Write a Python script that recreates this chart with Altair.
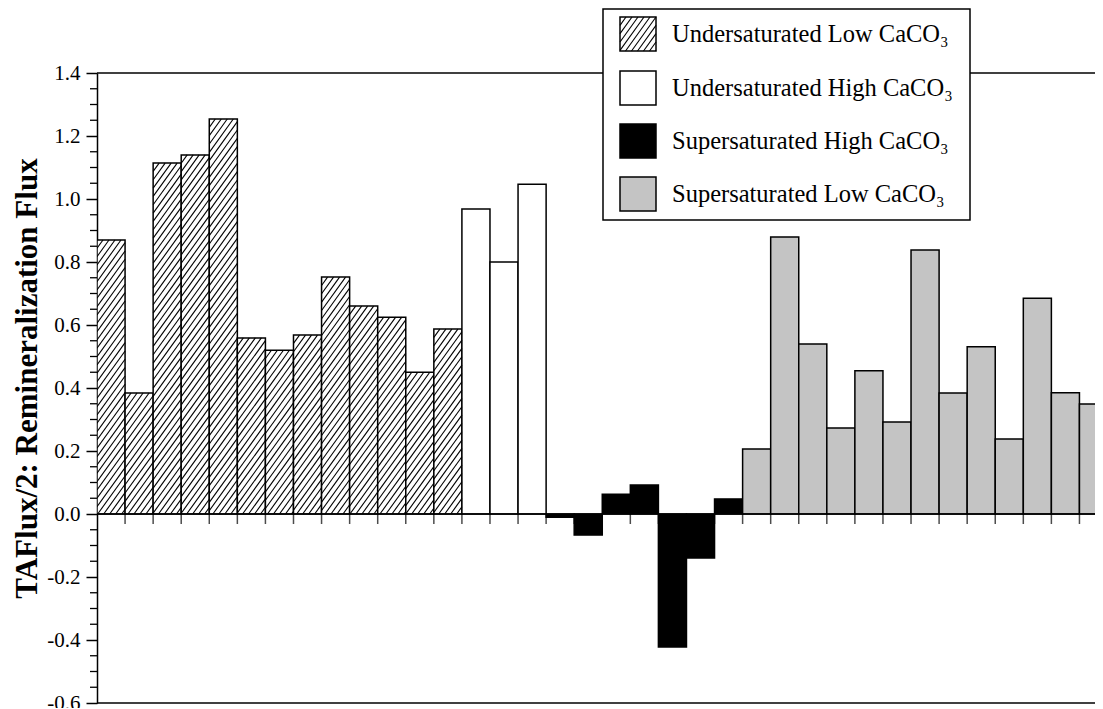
import altair as alt
import pandas as pd
import numpy as np

# ---------------- data ----------------
groups = ["Undersaturated Low CaCO₃", "Undersaturated High CaCO₃",
          "Supersaturated High CaCO₃", "Supersaturated Low CaCO₃"]
under_low = [0.870, 0.384, 1.114, 1.140, 1.254, 0.559, 0.520, 0.568, 0.752, 0.660, 0.625, 0.450, 0.587]
under_high = [0.968, 0.800, 1.047]
super_high = [-0.010, -0.067, 0.063, 0.092, -0.422, -0.140, 0.048]
super_low = [0.206, 0.879, 0.540, 0.273, 0.455, 0.292, 0.838, 0.384, 0.531, 0.238, 0.685, 0.385, 0.349]
fills = ["white", "white", "black", "#c4c4c4"]
y_ticks = [-0.6, -0.4, -0.2, 0.0, 0.2, 0.4, 0.6, 0.8, 1.0, 1.2, 1.4]
y_title = "TAFlux/2: Remineralization Flux"

# ---------------- layout ----------------
W, H = 998, 630
BAR_PX = 28.07
XMAX = W / BAR_PX
YMIN, YMAX = -0.6, 1.4
XPU = W / XMAX
YPU = H / (YMAX - YMIN)

rows = []
for g, vals in zip(groups, [under_low, under_high, super_high, super_low]):
    for v in vals:
        rows.append((g, v))
bars = pd.DataFrame(rows, columns=["group", "value"])
bars["x0"] = np.arange(len(bars))
bars["x1"] = bars["x0"] + 1

# hatch segments for the "Undersaturated Low" bars (decoration derived from bar values)
S, K = 6.0, 0.72
hs = []
for i, v in enumerate(under_low):
    hpx, wpx = v * YPU, XPU
    c = -K * hpx
    while c < wpx:
        t_lo = max(0.0, (0 - c) / K)
        t_hi = min(hpx, (wpx - c) / K)
        if t_hi > t_lo:
            hs.append({"hx0": i + (c + K * t_lo) / XPU, "hy0": t_lo / YPU,
                       "hx1": i + (c + K * t_hi) / XPU, "hy1": t_hi / YPU})
        c += S
hatch = pd.DataFrame(hs)

bounds = pd.DataFrame({"b": np.arange(1, len(bars))})
minor = pd.DataFrame({"m": [round(YMIN + 0.05 * k, 2) for k in range(41) if k % 4 != 0]})
dummy = pd.DataFrame({"d": [0]})

xs = alt.Scale(domain=[0, XMAX], nice=False, zero=False)
ys = alt.Scale(domain=[YMIN, YMAX], nice=False, zero=False)
SERIF = "Liberation Serif"

yaxis = alt.Axis(values=y_ticks,
                 labelExpr="replace(format(datum.value, '.1f'), '\u2212', '-')",
                 tickSize=11, tickWidth=1.5, tickColor="black",
                 domainColor="black", domainWidth=1.5,
                 labelFont=SERIF, labelFontSize=21, labelColor="black", labelPadding=6,
                 grid=False, title=y_title, titleFont=SERIF, titleFontSize=31,
                 titleFontWeight="bold", titleColor="black", titleX=-70, titleY=305,
                 titleAngle=270, titleAlign="center", titleBaseline="middle")

zero_ticks = alt.Chart(bounds).mark_tick(orient="vertical", size=10, thickness=1.5,
                                         color="black", yOffset=5).encode(
    x=alt.X("b:Q", scale=xs, axis=None), y=alt.Y(datum=0, scale=ys, axis=yaxis))

bar_layer = alt.Chart(bars).mark_rect(stroke="black", strokeWidth=1.5, clip=True).encode(
    x=alt.X("x0:Q", scale=xs, axis=None), x2="x1:Q",
    y=alt.Y("value:Q", scale=ys, axis=yaxis), y2=alt.datum(0),
    fill=alt.Fill("group:N", scale=alt.Scale(domain=groups, range=fills), legend=None))

hatch_layer = alt.Chart(hatch).mark_rule(color="black", strokeWidth=1.1, clip=True).encode(
    x=alt.X("hx0:Q", scale=xs, axis=None), x2="hx1:Q",
    y=alt.Y("hy0:Q", scale=ys, axis=yaxis), y2="hy1:Q")

zero_line = alt.Chart(dummy).mark_rule(color="black", strokeWidth=1.5).encode(
    y=alt.Y(datum=0, scale=ys, axis=yaxis))
top_line = alt.Chart(dummy).mark_rule(color="black", strokeWidth=1.5).encode(
    y=alt.Y(datum=YMAX, scale=ys, axis=yaxis))
bottom_line = alt.Chart(dummy).mark_rule(color="black", strokeWidth=1.5).encode(
    y=alt.Y(datum=YMIN, scale=ys, axis=yaxis))

minor_layer = alt.Chart(minor).mark_rule(color="black", strokeWidth=1.3).encode(
    y=alt.Y("m:Q", scale=ys, axis=yaxis), x=alt.value(-7), x2=alt.value(0))

# ---------------- custom legend ----------------
LX0, LX1, LY0, LY1 = 506, 873, -64, 147
SW_X0, SW_X1 = 523, 559
row_c = [-39, 15, 68, 121]
legend_layers = [alt.Chart(dummy).mark_rect(fill="white", stroke="black", strokeWidth=1.5).encode(
    x=alt.value(LX0), x2=alt.value(LX1), y=alt.value(LY0), y2=alt.value(LY1))]
for g, f, rc in zip(groups, fills, row_c):
    legend_layers.append(alt.Chart(dummy).mark_rect(fill=f, stroke="black", strokeWidth=1.5).encode(
        x=alt.value(SW_X0), x2=alt.value(SW_X1), y=alt.value(rc - 17), y2=alt.value(rc + 17)))
    legend_layers.append(alt.Chart(dummy).mark_text(
        text=g, font=SERIF, fontSize=24.5, color="black", align="left", baseline="alphabetic").encode(
        x=alt.value(575), y=alt.value(rc + 8)))
# hatch lines inside the first swatch
sy0, sy1 = row_c[0] + 17, row_c[0] - 17  # bottom, top (pixel)
sh = sy0 - sy1
sw = SW_X1 - SW_X0
c = -K * sh
while c < sw:
    t_lo = max(0.0, (0 - c) / K)
    t_hi = min(sh, (sw - c) / K)
    if t_hi > t_lo:
        legend_layers.append(alt.Chart(dummy).mark_rule(color="black", strokeWidth=1.1).encode(
            x=alt.value(SW_X0 + c + K * t_lo), y=alt.value(sy0 - t_lo),
            x2=alt.value(SW_X0 + c + K * t_hi), y2=alt.value(sy0 - t_hi)))
    c += S

chart = alt.layer(zero_ticks, bar_layer, hatch_layer, zero_line, top_line, bottom_line,
                  minor_layer, *legend_layers).properties(
    width=W, height=H,
    autosize=alt.AutoSizeParams(type="none"),
    padding={"left": 89, "top": 65, "right": 0, "bottom": 5},
    background="white",
).configure_view(stroke=None)

chart.save("out.html", embed_options={"renderer": "svg", "actions": False})
